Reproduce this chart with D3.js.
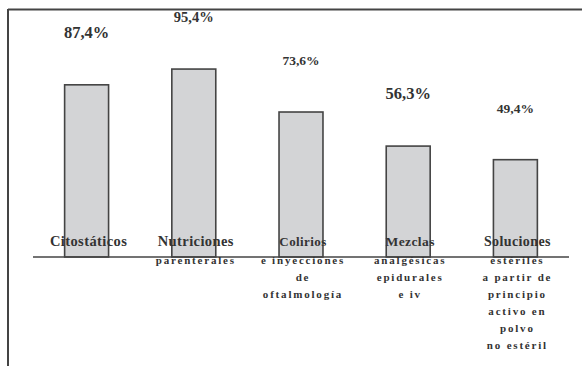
<!DOCTYPE html>
<html>
<head>
<meta charset="utf-8">
<script src="https://cdn.jsdelivr.net/npm/d3@7"></script>
<style>
  html, body { margin: 0; padding: 0; background: #fff; }
  svg { display: block; }
</style>
</head>
<body>
<svg id="chart" width="582" height="366"></svg>
<script>
// ---- data ----
const categories = [
  ["Citostáticos"],
  ["Nutriciones", "parenterales"],
  ["Colirios", "e inyecciones", "de", "oftalmología"],
  ["Mezclas", "analgésicas", "epidurales", "e iv"],
  ["Soluciones", "estériles", "a partir de", "principio", "activo en", "polvo", "no estéril"]
];
const values = [87.4, 95.4, 73.6, 56.3, 49.4];
const valueLabels = ["87,4%", "95,4%", "73,6%", "56,3%", "49,4%"];
// styling (not data)
const valueLabelSizes = [16.5, 14.5, 13.5, 16.5, 13.5];
const firstLineSizes = [14.5, 14.5, 13, 13.5, 14];

const svg = d3.select("#chart");
const ink = "#333";
const FONT = "Liberation Serif";

const x = d3.scaleBand()
  .domain(d3.range(values.length))
  .range([33, 569])
  .paddingInner(0.59)
  .paddingOuter(0.295);

const y = d3.scaleLinear().domain([0, 100]).range([257, 60]);

// frame (top and left)
svg.append("line").attr("x1", 8).attr("x2", 582).attr("y1", 9.5).attr("y2", 9.5)
  .attr("stroke", "#444").attr("stroke-width", 2);
svg.append("line").attr("x1", 8).attr("x2", 8).attr("y1", 9).attr("y2", 366)
  .attr("stroke", "#444").attr("stroke-width", 2);

// bars
svg.selectAll("rect.bar").data(values).join("rect")
  .attr("class", "bar")
  .attr("x", (d, i) => x(i))
  .attr("y", d => y(d))
  .attr("width", x.bandwidth())
  .attr("height", d => y(0) - y(d))
  .attr("fill", "#d3d4d6")
  .attr("stroke", "#444")
  .attr("stroke-width", 1.6);

// baseline
svg.append("line").attr("x1", 33).attr("x2", 569).attr("y1", y(0)).attr("y2", y(0))
  .attr("stroke", "#444").attr("stroke-width", 1.6);

// value labels
svg.selectAll("text.val").data(values).join("text")
  .attr("class", "val")
  .attr("x", (d, i) => x(i) + x.bandwidth() / 2)
  .attr("y", d => y(d) - 47)
  .attr("text-anchor", "middle")
  .attr("font-family", FONT)
  .attr("font-weight", "bold")
  .attr("font-size", (d, i) => valueLabelSizes[i])
  .attr("fill", ink)
  .text((d, i) => valueLabels[i]);

// category labels
const cat = svg.selectAll("text.cat").data(categories).join("text")
  .attr("class", "cat")
  .attr("text-anchor", "middle")
  .attr("font-family", FONT)
  .attr("font-weight", "bold")
  .attr("fill", ink);

cat.each(function(lines, i) {
  const t = d3.select(this);
  const cx = x(i) + x.bandwidth() / 2 + 2;
  lines.forEach((ln, j) => {
    t.append("tspan")
      .attr("x", cx)
      .attr("y", j === 0 ? 246 : 264 + (j - 1) * 17)
      .attr("font-size", j === 0 ? firstLineSizes[i] : 11)
      .attr("letter-spacing", j === 0 ? 0.4 : 1.8)
      .text(ln);
  });
});
</script>
</body>
</html>
